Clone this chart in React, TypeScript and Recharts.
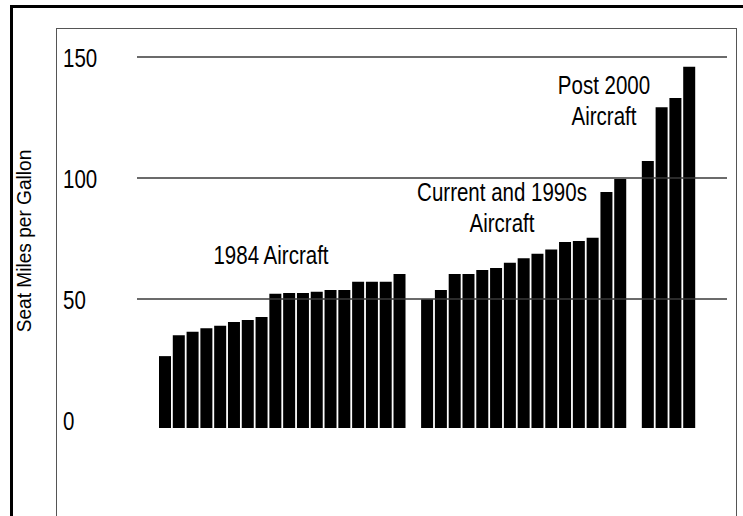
import React from 'react';
import { BarChart, Bar, XAxis, YAxis, ReferenceLine } from 'recharts';

// seat miles per gallon, sorted within each aircraft generation
const aircraft1984 = [26.4, 35.0, 36.5, 37.9, 39.0, 40.5, 41.3, 42.6, 52.2, 52.5, 52.5, 53.0, 53.7, 53.7, 57.1, 57.1, 57.1, 60.3];
const aircraftCurrent = [49.9, 53.7, 60.3, 60.3, 62.0, 62.8, 65.0, 66.8, 68.7, 70.5, 73.6, 74.0, 75.3, 94.2, 99.6];
const aircraftPost2000 = [107.0, 129.2, 133.1, 146.0];

const yTicks = [0, 50, 100, 150];
const gridValues = [50, 100, 150];
// the category axis crosses a little below zero
const AXIS_MIN = -3.3;
const AXIS_MAX = 150;

const yTitle = 'Seat Miles per Gallon';
const groupNotes = [
  { lines: ['1984 Aircraft'], x: 271, y: 264 },
  { lines: ['Current and 1990s', 'Aircraft'], x: 502, y: 201 },
  { lines: ['Post 2000', 'Aircraft'], x: 604, y: 94 },
];

// no narrow face installed, so squeeze the regular one
const SANS = "'Liberation Sans', Arial, sans-serif";
const NARROW_X = 0.82;

type Row = { slot: string; value: number | null };

const toRows = (prefix: string, values: number[]): Row[] =>
  values.map((v, i) => ({ slot: `${prefix}-${i + 1}`, value: v }));

// one empty slot between generations
const rows: Row[] = [
  ...toRows('1984', aircraft1984),
  { slot: 'gap-1', value: null },
  ...toRows('current', aircraftCurrent),
  { slot: 'gap-2', value: null },
  ...toRows('post2000', aircraftPost2000),
];

const barRange = (d: Row) => (d.value == null ? null : [AXIS_MIN, d.value]);

const NarrowText = ({ x, y, anchor = 'middle', children }: any) => (
  <text
    transform={`translate(${x},${y}) scale(${NARROW_X},1)`}
    textAnchor={anchor}
    fontSize={25}
    fontFamily={SANS}
    fill="#000"
  >
    {children}
  </text>
);

const YTick = ({ y, payload }: any) => (
  <NarrowText x={63} y={y + 10} anchor="start">
    {payload.value}
  </NarrowText>
);

export default function App() {
  return (
    <div style={{ position: 'absolute', left: 0, top: 0, width: 743, height: 516, overflow: 'hidden', background: '#fff' }}>
      {/* outer frame */}
      <div style={{ position: 'absolute', left: 10, top: 5, width: 800, height: 600, border: '3px solid #000', boxSizing: 'border-box' }} />
      {/* plot frame */}
      <div style={{ position: 'absolute', left: 56, top: 28, width: 681, height: 600, border: '1px solid #555', boxSizing: 'border-box' }} />

      <div style={{ position: 'absolute', left: 0, top: 0 }}>
        <BarChart
          width={743}
          height={516}
          data={rows}
          margin={{ top: 57, right: 16, bottom: 88, left: 0 }}
          barCategoryGap={1}
        >
          <XAxis
            dataKey="slot"
            type="category"
            height={0}
            tick={false}
            tickLine={false}
            axisLine={{ stroke: '#333', strokeWidth: 2 }}
            padding={{ left: 21, right: 31 }}
          />
          <YAxis
            type="number"
            width={137}
            domain={[AXIS_MIN, AXIS_MAX]}
            ticks={yTicks}
            allowDataOverflow
            axisLine={false}
            tickLine={false}
            tick={<YTick />}
          />
          {gridValues.map((v) => (
            <ReferenceLine key={v} y={v} stroke="#3a3a3a" strokeWidth={1.3} />
          ))}
          <Bar dataKey={barRange} fill="#000" isAnimationActive={false} />
        </BarChart>
      </div>

      <svg width={743} height={516} style={{ position: 'absolute', left: 0, top: 0, pointerEvents: 'none' }}>
        <text transform="translate(31,241) rotate(-90) scale(0.91,1)" textAnchor="middle" fontSize={21} fontFamily={SANS} fill="#000">
          {yTitle}
        </text>
        {groupNotes.map((n, i) =>
          n.lines.map((line, j) => (
            <NarrowText key={`${i}-${j}`} x={n.x} y={n.y + j * 31}>
              {line}
            </NarrowText>
          ))
        )}
      </svg>
    </div>
  );
}
